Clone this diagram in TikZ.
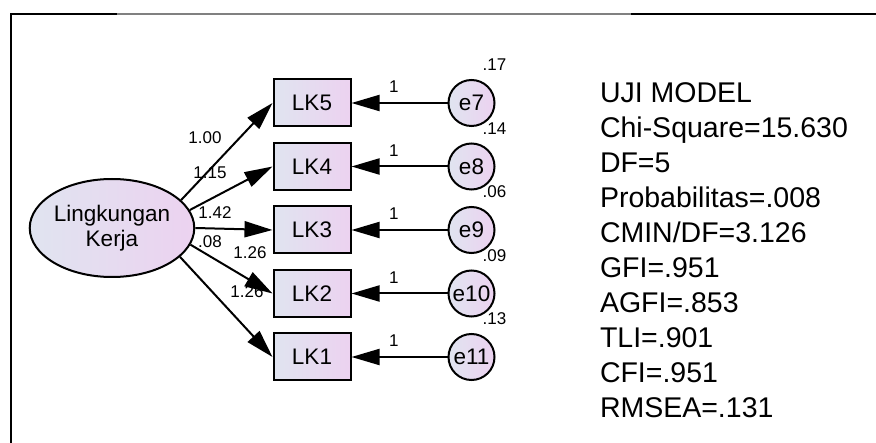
\documentclass[tikz,border=0pt]{standalone}
\usepackage{fontspec}
\setmainfont{Liberation Sans}
\usepackage{tikz}
\usetikzlibrary{arrows.meta,positioning,shapes.geometric}
\definecolor{fillA}{RGB}{224,228,240}
\definecolor{fillB}{RGB}{236,210,240}

\begin{document}
\begin{tikzpicture}[
    x=1pt, y=-1pt,
    >={Triangle[length=28pt,width=16pt]},
    node distance=14.5pt,
    line width=2pt,
    indbox/.style={draw, left color=fillA, right color=fillB, minimum width=77pt, minimum height=47pt, inner sep=0pt, font=\fontsize{22.5}{25}\selectfont},
    errc/.style={draw, circle, left color=fillA, right color=fillB, minimum size=46pt, inner sep=0pt, font=\fontsize{22.5}{25}\selectfont},
    coef/.style={font=\fontsize{17}{19}\selectfont, inner sep=1pt}
]
\useasboundingbox (0,0) rectangle (876,443);
% frame
\draw[line width=2.2pt] (11,443) -- (11,14) -- (876,14);
\draw[line width=2.2pt, gray] (117,14) -- (631,14);

\node[ellipse, draw, left color=fillA, right color=fillB, minimum width=157pt, minimum height=98pt, inner sep=0pt, align=center, font=\fontsize{22.5}{25}\selectfont] (lk) at (112,228) {Lingkungan\\Kerja};

\node[indbox] (lk5) at (312,103) {LK5};
\node[indbox, below=of lk5] (lk4) {LK4};
\node[indbox, below=of lk4] (lk3) {LK3};
\node[indbox, below=of lk3] (lk2) {LK2};
\node[indbox, below=of lk2] (lk1) {LK1};

\node[errc, right=96pt of lk5] (e7) {e7};
\node[errc, right=96pt of lk4] (e8) {e8};
\node[errc, right=96pt of lk3] (e9) {e9};
\node[errc, right=96pt of lk2] (e10) {e10};
\node[errc, right=96pt of lk1] (e11) {e11};

\foreach \i/\e/\v in {5/7/.17, 4/8/.14, 3/9/.06, 2/10/.09, 1/11/.13} {
    \draw[->] (e\e) -- node[coef, pos=0.56, above=8pt] {1} (lk\i);
    \node[coef] (v\e) at ([shift={(23,-38)}]e\e) {\v};
}

% loadings
\draw[->] (lk.22) -- (lk5.west);
\draw[->] (lk.13) -- (lk4.west);
\draw[->] (lk.0) -- (lk3.west);
\draw[->] (lk.-12) -- (lk2.west);
\draw[->] (lk.-23) -- (lk1.west);
\node[coef] (w5) at (205,138) {1.00};
\node[coef] (w4) at (210,173) {1.15};
\node[coef] (w3) at (215,213) {1.42};
\node[coef] (w0) at (210,242) {.08};
\node[coef] (w2) at (250,253) {1.26};
\node[coef] (w1) at (247,292) {1.26};

\node[anchor=north west, inner sep=0pt, align=left, font=\fontsize{28.5}{35}\selectfont] (stats) at (599,82) {UJI MODEL\\Chi-Square=15.630\\DF=5\\Probabilitas=.008\\CMIN/DF=3.126\\GFI=.951\\AGFI=.853\\TLI=.901\\CFI=.951\\RMSEA=.131};
\end{tikzpicture}
\end{document}
